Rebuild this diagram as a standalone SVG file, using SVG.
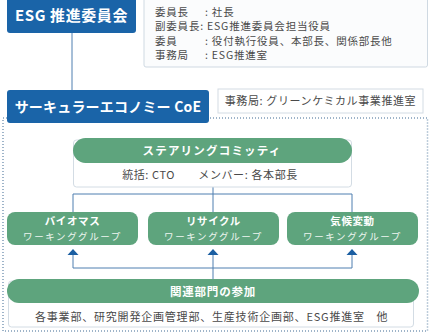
<svg xmlns="http://www.w3.org/2000/svg" width="430" height="335" viewBox="0 0 430 335">
<style>
text{font-family:"Noto Sans CJK JP","Noto Sans",sans-serif}
.blue{fill:#1a64a8}
.green{fill:#5ea47d}
.wbox{fill:#ffffff;stroke:#d3dce4;stroke-width:1}
.ttl{fill:#ffffff;font-weight:bold}
.info{fill:#4a4a4a;font-size:10.5px;letter-spacing:0.8px}
.sub{fill:#4a4a4a;font-size:11px;letter-spacing:0.6px}
.sub2{fill:#4a4a4a;font-size:11px;letter-spacing:0.8px}
.wgt{fill:#ffffff;font-weight:bold;font-size:10.5px;letter-spacing:0.6px}
.wgs{fill:#eef6f1;font-size:9.5px;letter-spacing:1.6px}
.ln{fill:none;stroke:#4f7fb0;stroke-width:1}
</style>
<defs>
<path id="tri" d="M-5.5,0 L5.5,0 L0,-6 Z" fill="#1a5ea2"/>
</defs>

<g id="boundary">
<rect x="3" y="118" width="424.5" height="213" fill="none" stroke="#7f9cb8" stroke-width="1.5" stroke-dasharray="1 2"/>
</g>

<g id="connectors">
<line class="ln" x1="72" y1="33" x2="72" y2="90"/>
<polyline class="ln" points="213,187 213,212"/>
<polyline class="ln" points="73,212 73,194 352,194 352,212"/>
<polyline class="ln" points="73,250 73,268 352,268 352,250"/>
<polyline class="ln" points="213,250 213,279"/>
<use href="#tri" x="73" y="255"/>
<use href="#tri" x="213" y="255"/>
<use href="#tri" x="352" y="255"/>
</g>

<g id="esg">
<rect class="blue" x="7" y="-3" width="129" height="36" rx="3"/>
<text class="ttl" x="71.5" y="21" font-size="15" text-anchor="middle" letter-spacing="0.6">ESG 推進委員会</text>
</g>

<g id="esg-info">
<rect x="144" y="-2" width="283.5" height="69" rx="2" fill="#fbfcfd" stroke="#cfd9e2"/>
<text class="info" x="155" y="16">委員長</text><text class="info" x="205" y="16">: 社長</text>
<text class="info" x="155" y="30">副委員長: ESG推進委員会担当役員</text>
<text class="info" x="155" y="45">委員</text><text class="info" x="205" y="45">: 役付執行役員、本部長、関係部長他</text>
<text class="info" x="155" y="59">事務局</text><text class="info" x="205" y="59">: ESG推進室</text>
</g>

<g id="coe">
<rect class="blue" x="7" y="90" width="202" height="33" rx="3"/>
<text class="ttl" x="108" y="112" font-size="14" text-anchor="middle" letter-spacing="0.2">サーキュラーエコノミー CoE</text>
</g>

<g id="coe-office">
<rect x="218" y="89" width="205" height="24" fill="#ffffff" stroke="#d3dce4"/>
<text class="sub" x="320.5" y="105" text-anchor="middle">事務局: グリーンケミカル事業推進室</text>
</g>

<g id="steering">
<rect class="wbox" x="73.5" y="140" width="278" height="47" rx="3"/>
<rect class="green" x="73" y="138" width="279" height="25" rx="12.5"/>
<text class="ttl" x="212" y="155" font-size="11.5" text-anchor="middle" letter-spacing="1.2">ステアリングコミッティ</text>
<text class="sub" x="210" y="179" text-anchor="middle">統括: CTO　　メンバー: 各本部長</text>
</g>

<g id="wg-biomass">
<rect class="green" x="7" y="212" width="131" height="33" rx="8"/>
<text class="wgt" x="72.5" y="225" text-anchor="middle">バイオマス</text>
<text class="wgs" x="72.5" y="240" text-anchor="middle">ワーキンググループ</text>
</g>

<g id="wg-recycle">
<rect class="green" x="148" y="212" width="131" height="33" rx="8"/>
<text class="wgt" x="213.5" y="225" text-anchor="middle">リサイクル</text>
<text class="wgs" x="213.5" y="240" text-anchor="middle">ワーキンググループ</text>
</g>

<g id="wg-climate">
<rect class="green" x="287" y="212" width="131" height="33" rx="8"/>
<text class="wgt" x="352.5" y="225" text-anchor="middle">気候変動</text>
<text class="wgs" x="352.5" y="240" text-anchor="middle">ワーキンググループ</text>
</g>

<g id="related">
<rect class="wbox" x="8.5" y="281" width="405" height="46" rx="3"/>
<rect class="green" x="7" y="279" width="412" height="24" rx="12"/>
<text class="ttl" x="213" y="295.5" font-size="11.5" text-anchor="middle" letter-spacing="0.8">関連部門の参加</text>
<text class="sub2" x="35" y="321">各事業部、研究開発企画管理部、生産技術企画部、ESG推進室　他</text>
</g>
</svg>
